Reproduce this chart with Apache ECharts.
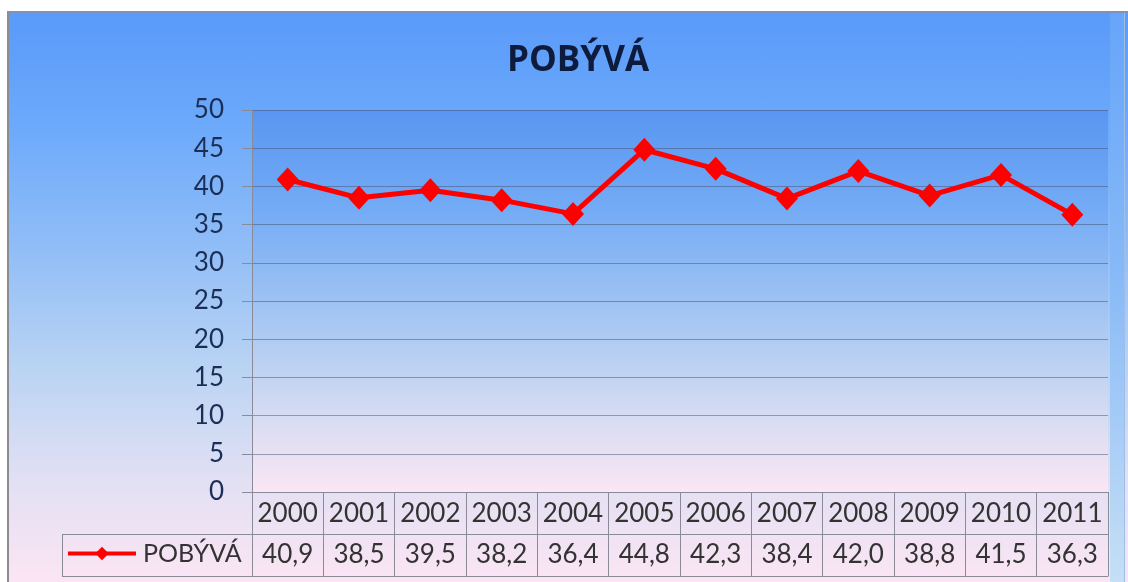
<!DOCTYPE html>
<html>
<head>
<meta charset="utf-8">
<script src="https://cdn.jsdelivr.net/npm/echarts@6/dist/echarts.min.js"></script>
<style>
  html, body { margin: 0; padding: 0; background: #ffffff; }
  #wrap { position: relative; width: 1128px; height: 582px; overflow: hidden; }
  #bg { position: absolute; left: 7px; top: 11px; width: 1121px; height: 571px; box-sizing: border-box;
        border-left: 2px solid #8c8c8e; border-top: 2px solid #7f92bf;
        background: linear-gradient(to bottom, #5a9af9 0%, #6aa8fb 18%, #8ebcf7 40%, #b9d3f3 62%, #e2e0f3 82%, #fbe5f4 100%); }
  #strip { position: absolute; left: 1110px; top: 13px; width: 14px; height: 569px;
        background: linear-gradient(to bottom, #66a5fa 0%, #86b9f7 45%, #c6dff5 100%); border-right: 1px solid #9fbde6; }
  #chart { position: absolute; left: 0; top: 0; width: 1128px; height: 582px; }
</style>
</head>
<body>
<div id="wrap">
  <div id="bg"></div>
  <div id="strip"></div>
  <div id="chart"></div>
</div>
<script>
const titleText = 'POBÝVÁ';
const seriesName = 'POBÝVÁ';
const years = ['2000','2001','2002','2003','2004','2005','2006','2007','2008','2009','2010','2011'];
const values = [40.9, 38.5, 39.5, 38.2, 36.4, 44.8, 42.3, 38.4, 42.0, 38.8, 41.5, 36.3];
const yMin = 0, yMax = 50, yStep = 5;

const fmt = v => v.toFixed(1).replace('.', ',');
const lineCol = '#8a8b96';
const tableText = '#333333';
const labelFont = 'Lato, "Open Sans", sans-serif';

const chart = echarts.init(document.getElementById('chart'), null, { renderer: 'canvas' });
chart.setOption({
  backgroundColor: 'transparent',
  animation: false,
  title: {
    text: titleText, left: 502, top: 35,
    textStyle: { fontFamily: '"Open Sans", sans-serif', fontWeight: 'bold', fontSize: 35, color: '#0f1b3d', lineHeight: 42 }
  },
  legend: {
    show: true, left: 66, top: 541, itemWidth: 68, itemHeight: 17, padding: 0,
    data: [{ name: seriesName }],
    lineStyle: { width: 4 },
    textStyle: { fontFamily: labelFont, fontSize: 25, color: tableText, padding: [2, 0, 0, 2] }
  },
  grid: {
    left: 252, right: 20, top: 110, bottom: 90, show: true, borderWidth: 0,
    backgroundColor: new echarts.graphic.LinearGradient(0, 0, 0, 1, [
      { offset: 0, color: '#5a96f1' },
      { offset: 0.25, color: '#72aaf5' },
      { offset: 0.55, color: '#a6c7f2' },
      { offset: 0.8, color: '#d6dcf2' },
      { offset: 1, color: '#fbe6f4' }
    ])
  },
  xAxis: [
    {
      type: 'category', data: years, boundaryGap: true, position: 'bottom', gridIndex: 0,
      axisLine: { show: true, lineStyle: { color: lineCol, width: 1 } },
      axisTick: { show: true, length: 42, lineStyle: { color: lineCol, width: 1 } },
      axisLabel: { margin: 22, verticalAlign: 'middle', fontFamily: labelFont, fontSize: 26, color: tableText, interval: 0 }
    },
    {
      type: 'category', data: years, boundaryGap: true, position: 'bottom', offset: 42, gridIndex: 0,
      axisLine: { show: true, lineStyle: { color: lineCol, width: 1 } },
      axisTick: { show: true, length: 42, lineStyle: { color: lineCol, width: 1 } },
      axisLabel: { margin: 21, verticalAlign: 'middle', fontFamily: labelFont, fontSize: 26, color: tableText, interval: 0,
                   formatter: (v, i) => fmt(values[i]) }
    },
    {
      type: 'category', data: years, boundaryGap: true, position: 'bottom', offset: 84, gridIndex: 0,
      axisLine: { show: true, lineStyle: { color: lineCol, width: 1 } },
      axisTick: { show: false }, axisLabel: { show: false }
    }
  ],
  yAxis: {
    type: 'value', min: yMin, max: yMax, interval: yStep,
    axisLine: { show: true, lineStyle: { color: lineCol, width: 1 } },
    axisTick: { show: true, length: 10, lineStyle: { color: lineCol } },
    axisLabel: { margin: 28, fontFamily: labelFont, fontSize: 26, color: '#1b2e55' },
    splitLine: { show: true, lineStyle: { color: 'rgba(70,80,110,0.5)', width: 1 } }
  },
  graphic: [
    { type: 'line', shape: { x1: 62, y1: 534.5, x2: 252, y2: 534.5 }, style: { stroke: lineCol, lineWidth: 1 } },
    { type: 'line', shape: { x1: 62, y1: 576.5, x2: 252, y2: 576.5 }, style: { stroke: lineCol, lineWidth: 1 } },
    { type: 'line', shape: { x1: 62.5, y1: 534.5, x2: 62.5, y2: 576.5 }, style: { stroke: lineCol, lineWidth: 1 } }
  ],
  series: [{
    name: seriesName, type: 'line', data: values, xAxisIndex: 0,
    symbol: 'diamond', symbolSize: [22, 24],
    lineStyle: { color: '#ff0000', width: 5 },
    itemStyle: { color: '#ff0000' }
  }]
});
</script>
</body>
</html>
